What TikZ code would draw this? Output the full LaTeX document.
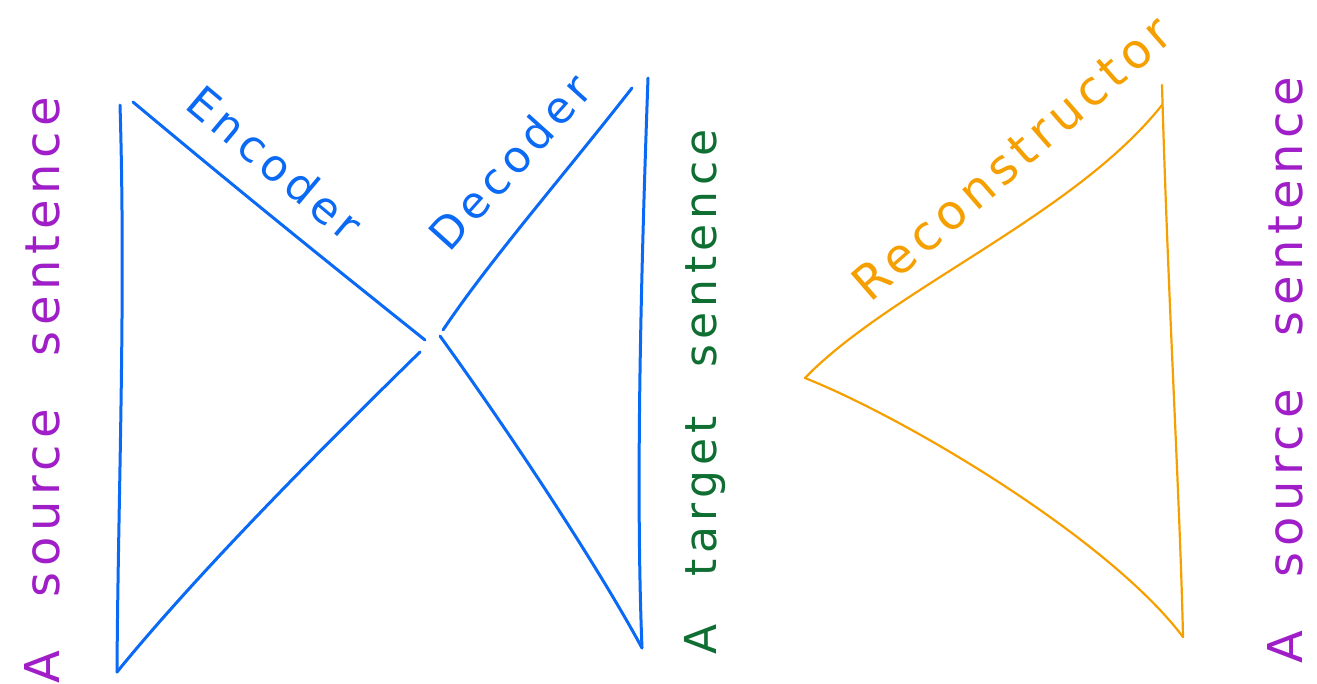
\documentclass[tikz,border=0pt]{standalone}
\usepackage{fontspec}
\setmainfont{DejaVu Sans}
\newfontfamily\handfont[LetterSpace=12]{DejaVu Sans}
\definecolor{penblue}{RGB}{10,105,245}
\definecolor{penpurple}{RGB}{160,30,200}
\definecolor{pengreen}{RGB}{15,110,50}
\definecolor{penorange}{RGB}{245,160,0}
\begin{document}
\begin{tikzpicture}[x=1pt,y=-1pt,
  stroke/.style={line width=3pt,line cap=round,line join=round},
  thin stroke/.style={line width=2.2pt,line cap=round,line join=round},
  lab/.style={font=\handfont\fontsize{44}{50}\selectfont,inner sep=0pt},
  biglab/.style={font=\handfont\fontsize{48}{54}\selectfont,inner sep=0pt}]
\useasboundingbox (0,0) rectangle (1317,683);
% Encoder
\draw[stroke,penblue] (133,102) .. controls (250,200) and (350,280) .. (425,340);
\draw[stroke,penblue] (120,105) .. controls (126,300) and (118,500) .. (117,672);
\draw[stroke,penblue] (117,672) .. controls (200,570) and (330,440) .. (420,352);
% Decoder
\draw[stroke,penblue] (632,88) .. controls (560,180) and (490,260) .. (443,330);
\draw[stroke,penblue] (648,78) .. controls (640,300) and (636,500) .. (642,648);
\draw[stroke,penblue] (440,336) .. controls (515,440) and (600,570) .. (642,648);
% Reconstructor
\draw[thin stroke,penorange] (1162,105) .. controls (1075,215) and (890,290) .. (805,378);
\draw[thin stroke,penorange] (1162,85) .. controls (1168,300) and (1180,500) .. (1183,637);
\draw[thin stroke,penorange] (805,378) .. controls (910,420) and (1110,540) .. (1183,637);
% Labels
\node[biglab,penpurple,rotate=90] (src1) at (42,390) {A\hspace{1.1em}source\hspace{1.1em}sentence};
\node[lab,pengreen,rotate=90] (tgt) at (705,392) {A\hspace{1.1em}target\hspace{1.1em}sentence};
\node[biglab,penpurple,rotate=90] (src2) at (1285,370) {A\hspace{1.1em}source\hspace{1.1em}sentence};
\node[lab,penblue,rotate=-40] (enc) at (275,163) {Encoder};
\node[lab,penblue,rotate=48] (dec) at (510,162) {Decoder};
\node[biglab,penorange,rotate=41] (rec) at (1012,158) {Reconstructor};
\end{tikzpicture}
\end{document}
